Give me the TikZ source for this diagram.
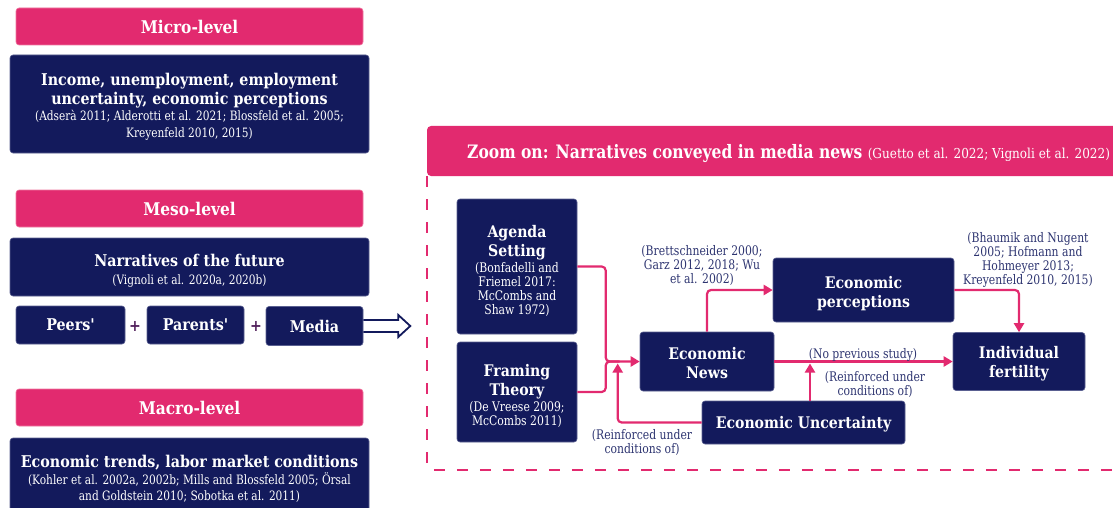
\documentclass[tikz,border=0pt]{standalone}
\usepackage{fontspec}
\setmainfont{DejaVu Serif}[FakeStretch=0.88, Ligatures=TeXOff]
\newfontfamily\reff{DejaVu Serif}[FakeStretch=0.82, Ligatures=TeXOff]
\newfontfamily\hdrf{DejaVu Serif}[FakeStretch=0.84, Ligatures=TeXOff]
\usetikzlibrary{arrows.meta,calc}

\definecolor{pinkc}{RGB}{226,42,111}
\definecolor{pinkedge}{RGB}{238,120,160}
\definecolor{navyc}{RGB}{19,26,92}
\definecolor{navyedge}{RGB}{90,96,145}
\definecolor{labelc}{RGB}{45,52,112}
\definecolor{plusc}{RGB}{80,30,90}

% title and citation fonts inside the boxes
\newcommand\boxtitle{\bfseries\fontsize{16.2}{19}\selectfont}
\newcommand\boxref{\reff\fontsize{12.9}{19}\selectfont}
\newcommand\smalltitle{\bfseries\fontsize{16}{19}\selectfont}
\newcommand\smallref{\reff\fontsize{13.2}{19}\selectfont}

\tikzset{
  lvl/.style={fill=pinkc, draw=pinkedge, line width=0.6pt, rounded corners=3pt,
    text=white, inner sep=0pt, font=\bfseries\fontsize{17.5}{20}\selectfont,
    minimum width=347pt, minimum height=37pt},
  navybox/.style={fill=navyc, draw=navyedge, line width=0.6pt, rounded corners=3pt,
    text=white, align=center, inner sep=0pt, font=\fontsize{16}{19}\selectfont},
  boxtext/.style={text=white, align=center, inner sep=0pt, font=\fontsize{16}{19}\selectfont},
  note/.style={text=labelc, align=center, inner sep=0pt,
    font=\reff\fontsize{13.2}{14}\selectfont},
  flow/.style={draw=pinkc, line width=2.2pt, rounded corners=4pt,
    -{Triangle[length=9pt,width=10pt]}},
  plain/.style={draw=pinkc, line width=2.2pt, rounded corners=4pt},
  plus/.style={text=plusc, font=\bfseries\fontsize{16}{16}\selectfont, inner sep=0pt}
}

\begin{document}
\begin{tikzpicture}[x=1pt,y=-1pt]
\useasboundingbox (0,0) rectangle (1113,508);
\clip (0,0) rectangle (1113,508);

% ---------- left column: levels ----------
\node[lvl] (micro) at (189.5,26.5) {Micro-level};
\node[navybox, minimum width=359pt, minimum height=98pt] (income) at (189.5,104) {};
\node[boxtext] (income-t) at ($(income)+(0,2.5)$)
  {\boxtitle Income, unemployment, employment\\
   \boxtitle uncertainty, economic perceptions\\[-3pt]
   \boxref (Adserà 2011; Alderotti et al. 2021; Blossfeld et al. 2005;\\[-2pt]
   \boxref Kreyenfeld 2010, 2015)};

\node[lvl] (meso) at (189.5,208.5) {Meso-level};
\node[navybox, minimum width=359pt, minimum height=58pt] (narr) at (189.5,267) {};
\node[boxtext] (narr-t) at ($(narr)+(0,3.5)$)
  {\boxtitle Narratives of the future\\[-1pt]
   \boxref (Vignoli et al. 2020a, 2020b)};

\node[navybox, minimum width=109pt, minimum height=38pt, font=\boxtitle] (peers) at (70.5,325) {Peers'};
\node[navybox, minimum width=97pt, minimum height=38pt, font=\boxtitle] (parents) at (195.5,325) {Parents'};
\node[navybox, minimum width=97pt, minimum height=39pt, font=\boxtitle] (media) at (314.5,326) {Media};
\node[plus] (plus1) at (135,326) {+};
\node[plus] (plus2) at (256,326) {+};

% hollow arrow leaving the media box
\draw[navyc, line width=1.8pt, line join=miter]
  ($(media.east)+(0,-6)$) -- ++(35,0) -- ++(0,-5) -- ++(12,11)
  -- ++(-12,11) -- ++(0,-5) -- ++(-35,0);

\node[lvl] (macro) at (189.5,407.5) {Macro-level};
\node[navybox, minimum width=359pt, minimum height=82pt] (trends) at (189.5,479)
  {\boxtitle Economic trends, labor market conditions\\[-2pt]
   \boxref (Kohler et al. 2002a, 2002b; Mills and Blossfeld 2005; Örsal\\[-3pt]
   \boxref and Goldstein 2010; Sobotka et al. 2011)};

% ---------- right panel: media news ----------
\fill[pinkc, rounded corners=4pt] (427,176) -- (427,126) -- (1125,126) -- (1125,176) -- cycle;
\node[anchor=base west, text=white, inner sep=0pt] (zoomhdr) at (467,158)
  {\hdrf\bfseries\fontsize{18.5}{20}\selectfont Zoom on: Narratives conveyed in media news
   \rmfamily\mdseries\fontsize{13.7}{14}\selectfont (Guetto et al. 2022; Vignoli et al. 2022)};
\draw[pinkc, line width=2.5pt, dash pattern=on 11pt off 12pt, rounded corners=4pt]
  (427,176) -- (427,470) -- (1125,470);

\node[navybox, minimum width=120pt, minimum height=135pt] (agenda) at (517,266.5) {};
\node[boxtext] (agenda-t) at ($(agenda)+(0,4.5)$)
  {\smalltitle Agenda\\ \smalltitle Setting\\[-3pt]
   \smallref (Bonfadelli and\\[-5pt] \smallref Friemel 2017:\\[-5pt]
   \smallref McCombs and\\[-5pt] \smallref Shaw 1972)};
\node[navybox, minimum width=120pt, minimum height=100pt] (framing) at (517,392) {};
\node[boxtext] (framing-t) at ($(framing)+(0,3.5)$)
  {\smalltitle Framing\\ \smalltitle Theory\\[-3pt]
   \smallref (De Vreese 2009;\\[-5pt] \smallref McCombs 2011)};
\node[navybox, minimum width=134pt, minimum height=59pt] (news) at (707,361.5) {};
\node[boxtext] (news-t) at ($(news)+(0,2)$) {\smalltitle Economic\\ \smalltitle News};
\node[navybox, minimum width=181pt, minimum height=64pt] (perc) at (863.5,290) {};
\node[boxtext] (perc-t) at ($(perc)+(0,3.5)$) {\smalltitle Economic\\ \smalltitle perceptions};
\node[navybox, minimum width=132pt, minimum height=58pt] (fert) at (1019,361.5) {};
\node[boxtext] (fert-t) at ($(fert)+(0,2.5)$) {\smalltitle Individual\\ \smalltitle fertility};
\node[navybox, minimum width=203pt, minimum height=43pt] (eu) at (803.5,422.5) {};
\node[boxtext] (eu-t) at ($(eu)+(0,2)$) {\smalltitle Economic Uncertainty};

% connectors
\coordinate (j) at ($(news.west)+(-34,0)$);
\coordinate (k) at ($(news.west)+(-22,2)$);
\coordinate (m) at ($(news.east)!0.2!(fert.west)$);
\draw[flow] (agenda.east) -| (j) -- (news.west);
\draw[plain] (framing.east) -| (j) -- ++(14,0);
\draw[flow] (eu.west) -| (k);
\draw[flow] (news.north) |- (perc.west);
\draw[flow] (perc.east) -| (fert.north);
\draw[flow] (news.east) -- (fert.west);
\draw[flow] (m |- eu.north) -- ($(m)+(0,2)$);

% citations along the connectors
\node[note] (cite1) at (702,266) {(Brettschneider 2000;\\Garz 2012, 2018; Wu\\et al. 2002)};
\node[note] (cite2) at (1028,260) {(Bhaumik and Nugent\\2005; Hofmann and\\Hohmeyer 2013;\\Kreyenfeld 2010, 2015)};
\node[note] (noprev) at (863,355) {(No previous study)};
\node[note] (reinf1) at (875,385) {(Reinforced under\\conditions of)};
\node[note] (reinf2) at (642,443) {(Reinforced under\\conditions of)};
\end{tikzpicture}
\end{document}
